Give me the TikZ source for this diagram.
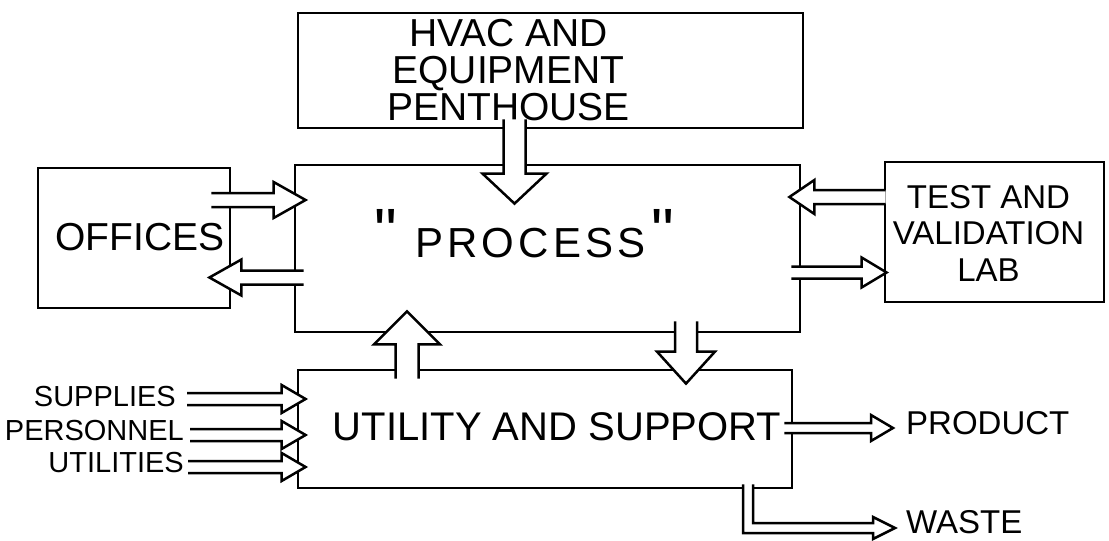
\documentclass[tikz,border=0pt]{standalone}
\usepackage{fontspec}
\setmainfont{Liberation Sans}
\newfontfamily\quotefont{Liberation Sans}
\usetikzlibrary{calc}

% hollow "pipe" arrow: from, to, shaft half width, head half width, head length
\newcommand{\flow}[5]{%
  \coordinate (fa) at (#1);
  \coordinate (fb) at (#2);
  \coordinate (fc) at ($(fb)!#5!(fa)$);
  \fill[white] ($(fa)!#3!90:(fb)$) -- ($(fc)!#3!90:(fb)$) -- ($(fc)!#4!90:(fb)$) -- (fb)
    -- ($(fc)!#4!-90:(fb)$) -- ($(fc)!#3!-90:(fb)$) -- ($(fa)!#3!-90:(fb)$) -- cycle;
  \draw[flowline] ($(fa)!#3!90:(fb)$) -- ($(fc)!#3!90:(fb)$) -- ($(fc)!#4!90:(fb)$) -- (fb)
    -- ($(fc)!#4!-90:(fb)$) -- ($(fc)!#3!-90:(fb)$) -- ($(fa)!#3!-90:(fb)$);
}
\newcommand{\tallquote}{\raisebox{4pt}{\quotefont\fontsize{64}{64}\selectfont"}}

\begin{document}
\begin{tikzpicture}[
  x=1pt, y=-1pt,
  every node/.style={inner sep=0pt},
  box/.style={draw, line width=2.8pt, fill=white},
  flowline/.style={line width=2.5pt, line join=miter, line cap=butt},
  hand/.style={align=center},
  big/.style={hand, font=\fontsize{40}{37}\selectfont},
  mid/.style={hand, font=\fontsize{33}{36.5}\selectfont},
  small/.style={hand, font=\fontsize{29}{32}\selectfont}
]
\useasboundingbox (0,0) rectangle (1109,541);

% boxes
\node[box, minimum width=505pt, minimum height=115pt] (hvac)    at (550.5,70.5) {};
\node[box, minimum width=505pt, minimum height=167pt] (process) at (547.5,248.5) {};
\node[box, minimum width=192pt, minimum height=140pt] (offices) at (134,238) {};
\node[box, minimum width=219pt, minimum height=140pt] (lab)     at (994.5,232) {};
\node[box, minimum width=494pt, minimum height=118pt] (utility) at (545,429) {};

% box texts
\node[big, font=\fontsize{39}{37}\selectfont] (hvactext) at ($(hvac.center)+(-42,0)$) {HVAC AND\\EQUIPMENT\\PENTHOUSE};
\node[big, anchor=base, font=\fontsize{42}{44}\selectfont] (processtext)
  at ($(process.center)+(-23,8.5)$) {\tallquote\hspace{18pt}{\addfontfeature{LetterSpace=10}PROCESS}\hspace{6pt}\tallquote};
\node[big, font=\fontsize{39}{37}\selectfont] (officestext) at ($(offices.center)+(6,-1)$) {OFFICES};
\node[mid] (labtext) at ($(lab.center)+(-6,1)$) {TEST AND\\VALIDATION\\LAB};
\node[big] (utilitytext) at ($(utility.center)+(12,-2)$) {UTILITY AND SUPPORT};

% inputs and outputs
\node[small, anchor=east] (supplies)  at (176,397) {SUPPLIES};
\node[small, anchor=east] (personnel) at (184,431) {PERSONNEL};
\node[small, anchor=east] (utilities) at (184,463) {UTILITIES};
\node[mid, anchor=west] (product) at (906,423) {PRODUCT};
\node[mid, anchor=west] (waste)   at (906,522) {WASTE};

% offices <-> process
\coordinate (o1) at ($(offices.east)+(-20,-38)$);
\flow{o1}{$(process.west |- o1)+(12,0)$}{7pt}{18pt}{32pt}
\coordinate (o2) at ($(process.west)+(10,29)$);
\flow{o2}{$(offices.east |- o2)+(-22,0)$}{7pt}{18pt}{32pt}

% penthouse -> process
\coordinate (h1) at ($(hvac.south)+(-36,-10)$);
\flow{h1}{$(process.north -| h1)+(0,40)$}{11pt}{32pt}{30pt}

% lab <-> process
\coordinate (l1) at ($(lab.west)+(2,-35)$);
\flow{l1}{$(process.east |- l1)+(-12,0)$}{7pt}{17pt}{25pt}
\coordinate (l2) at ($(process.east)+(-10,24)$);
\flow{l2}{$(lab.west |- l2)+(3,0)$}{6pt}{15pt}{25pt}

% utility <-> process
\coordinate (u1) at ($(utility.north)+(-138,10)$);
\flow{u1}{$(process.south -| u1)+(0,-22)$}{11.5pt}{33pt}{33pt}
\coordinate (u2) at ($(process.south)+(138.5,-12)$);
\flow{u2}{$(utility.north -| u2)+(0,15)$}{11pt}{29pt}{32pt}

% inputs
\coordinate (i1) at ($(supplies.east)+(11,2)$);
\flow{i1}{$(utility.west |- i1)+(9,0)$}{6pt}{14pt}{24pt}
\coordinate (i2) at ($(personnel.east)+(6,4)$);
\flow{i2}{$(utility.west |- i2)+(9,0)$}{6pt}{14pt}{24pt}
\coordinate (i3) at ($(utilities.east)+(4,4)$);
\flow{i3}{$(utility.west |- i3)+(9,0)$}{6pt}{14pt}{24pt}

% product
\coordinate (p1) at ($(utility.east)+(-9,-1)$);
\flow{p1}{$(product.west)+(-13,5)$}{5pt}{13pt}{22pt}

% waste
\coordinate (w1) at ($(utility.south)+(198,-5)$);
\coordinate (w2) at ($(waste.west)+(-11,6)$);
\fill[white] (w1) |- ($(w2)+(-22,5)$) -- ++(0,6) -- (w2) -- ++(-22,-11) -- ++(0,6) -| ($(w1)+(10,0)$) -- cycle;
\draw[flowline] (w1) |- ($(w2)+(-22,5)$) -- ++(0,6) -- (w2) -- ++(-22,-11) -- ++(0,6) -| ($(w1)+(10,0)$);

\end{tikzpicture}
\end{document}
